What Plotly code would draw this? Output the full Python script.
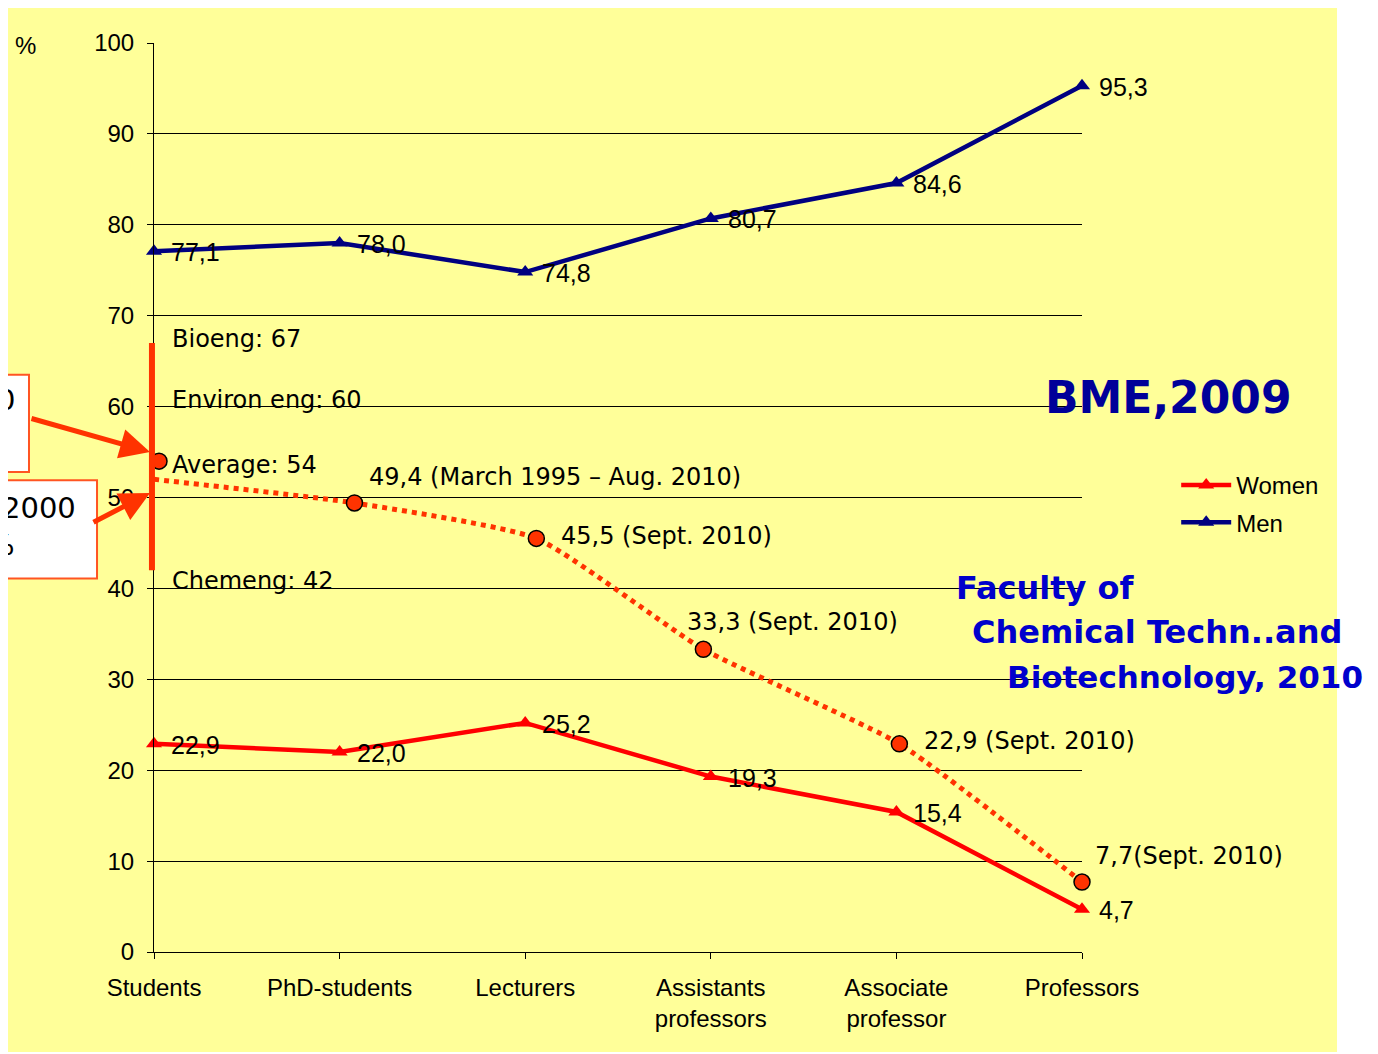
import plotly.graph_objects as go

categories = ["Students", "PhD-students", "Lecturers", "Assistants<br>professors",
              "Associate<br>professor", "Professors"]
women = [22.9, 22.0, 25.2, 19.3, 15.4, 4.7]
men = [77.1, 78.0, 74.8, 80.7, 84.6, 95.3]
women_labels = ["22,9", "22,0", "25,2", "19,3", "15,4", "4,7"]
men_labels = ["77,1", "78,0", "74,8", "80,7", "84,6", "95,3"]

# Faculty of Chemical Technology and Biotechnology, 2010 (women share)
fac_x = [0.027, 1.08, 2.06, 2.96, 4.016, 5.0]
fac_values = [54, 49.4, 45.5, 33.3, 22.9, 7.7]
fac_trend_start = 52
fac_labels = ["", "49,4 (March 1995 – Aug. 2010)", "45,5 (Sept. 2010)",
              "33,3 (Sept. 2010)", "22,9 (Sept. 2010)", "7,7(Sept. 2010)"]
dept_names = ["Bioeng: 67", "Environ eng: 60", "Average: 54", "Chemeng: 42"]
dept_values = [67, 60, 54, 42]
dept_range = [42, 67]

x = list(range(len(categories)))
AX_FONT = "Arial, Liberation Sans, sans-serif"
COMIC = "DejaVu Sans, sans-serif"
YELLOW = "#FFFF99"
ORANGE = "#FF3300"

fig = go.Figure()

fig.add_trace(go.Scatter(
    x=x, y=women, name="Women", legendgroup="w", mode="lines+markers",
    line=dict(color="#FF0000", width=4.5),
    marker=dict(symbol="triangle-up", size=14, color="#FF0000"), cliponaxis=False))
fig.add_trace(go.Scatter(
    x=x, y=men, name="Men", legendgroup="m", mode="lines+markers",
    line=dict(color="#000080", width=4.5),
    marker=dict(symbol="triangle-up", size=14, color="#000080"), cliponaxis=False))

trend_x = [0] + fac_x[1:]
trend_y = [fac_trend_start] + fac_values[1:]
fig.add_trace(go.Scatter(
    x=trend_x, y=trend_y, mode="lines", showlegend=False, hoverinfo="skip",
    line=dict(color=ORANGE, width=5, dash="dot", shape="spline", smoothing=0.5)))
fig.add_trace(go.Scatter(
    x=fac_x, y=fac_values, mode="markers", showlegend=False, cliponaxis=False,
    marker=dict(symbol="circle", size=16, color=ORANGE,
                line=dict(color="black", width=1.5))))

shapes = [
    dict(type="rect", xref="paper", yref="paper", layer="below",
         x0=-0.1573, x1=1.2748, y0=-0.110, y1=1.0418,
         fillcolor=YELLOW, line=dict(width=0)),
    dict(type="line", xref="paper", yref="paper",
         x0=-0.0022, x1=-0.0022, y0=dept_range[0] / 100, y1=dept_range[1] / 100,
         line=dict(color=ORANGE, width=6)),
    dict(type="rect", xref="paper", yref="paper",
         x0=-0.20, x1=-0.1347, y0=0.528, y1=0.635,
         fillcolor="white", line=dict(color="#FF5522", width=2)),
    dict(type="rect", xref="paper", yref="paper",
         x0=-0.20, x1=-0.0614, y0=0.411, y1=0.519,
         fillcolor="white", line=dict(color="#FF5522", width=2)),
]

annotations = [
    dict(text="%", xref="paper", yref="paper", x=-0.138, y=0.9967, xanchor="center",
         yanchor="middle", showarrow=False, font=dict(family=AX_FONT, size=24, color="black")),
    dict(text="BME,2009", xref="paper", yref="paper", x=1.0927, y=0.6095,
         xanchor="center", yanchor="middle", showarrow=False,
         font=dict(family=COMIC, size=44, color="#000099", weight="bold")),
    dict(text="Faculty of", xref="paper", yref="paper", x=(954 - 154) / 928, y=(952 - 588) / 909,
         xanchor="left", yanchor="middle", showarrow=False,
         font=dict(family=COMIC, size=32, color="#0000CC", weight="bold")),
    dict(text="Chemical Techn..and", xref="paper", yref="paper", x=(970 - 154) / 928, y=(952 - 632) / 909,
         xanchor="left", yanchor="middle", showarrow=False,
         font=dict(family=COMIC, size=32, color="#0000CC", weight="bold")),
    dict(text="Biotechnology, 2010", xref="paper", yref="paper", x=(1005 - 154) / 928, y=(952 - 677) / 909,
         xanchor="left", yanchor="middle", showarrow=False,
         font=dict(family=COMIC, size=31, color="#0000CC", weight="bold")),
    # cut-off box texts
    dict(text="0", xref="paper", yref="paper", x=-0.148, y=(952 - 400) / 909,
         xanchor="right", yanchor="middle", showarrow=False,
         font=dict(family=COMIC, size=29, color="black")),
    dict(text="2000", xref="paper", yref="paper", x=-0.082, y=(952 - 508) / 909,
         xanchor="right", yanchor="middle", showarrow=False,
         font=dict(family=COMIC, size=29, color="black")),
    dict(text="%", xref="paper", yref="paper", x=-0.148, y=(952 - 545) / 909,
         xanchor="right", yanchor="middle", showarrow=False,
         font=dict(family=COMIC, size=29, color="black")),
    # arrows
    dict(text="", xref="paper", yref="y", x=-4 / 928, y=55.0, ax=-120, ay=-34,
         showarrow=True, arrowhead=2, arrowsize=1.2, arrowwidth=5, arrowcolor=ORANGE),
    dict(text="", xref="paper", yref="y", x=-4 / 928, y=50.5, ax=-58, ay=30,
         showarrow=True, arrowhead=2, arrowsize=1.2, arrowwidth=5, arrowcolor=ORANGE),
]

# data labels for the two series
for vals, labs in ((women, women_labels), (men, men_labels)):
    for xi, yi, lab in zip(x, vals, labs):
        annotations.append(dict(text=lab, x=xi, y=yi, xref="x", yref="y", xanchor="left",
                                yanchor="middle", xshift=15, yshift=-1, showarrow=False,
                                font=dict(family=AX_FONT, size=25, color="black")))

dept_shifts = [4, 7, -4, -11]
for name, val, dy in zip(dept_names, dept_values, dept_shifts):
    annotations.append(dict(text=name, x=0, y=val, xref="x", yref="y", xanchor="left",
                            yanchor="middle", xshift=16, yshift=dy, showarrow=False,
                            font=dict(family=COMIC, size=24, color="black")))

label_shifts = [(0, 0), (13, 26), (23, 2), (-18, 27), (23, 3), (11, 26)]
for xi, yi, lab, (dx, dy) in zip(fac_x, fac_values, fac_labels, label_shifts):
    if lab:
        annotations.append(dict(text=lab, x=xi, y=yi, xref="x", yref="y", xanchor="left",
                                yanchor="middle", xshift=dx, yshift=dy, showarrow=False,
                                font=dict(family=COMIC, size=24, color="black")))

fig.update_layout(
    width=1370, height=1046,
    margin=dict(l=146, r=296, t=35, b=102),
    paper_bgcolor="white", plot_bgcolor="rgba(0,0,0,0)",
    shapes=shapes, annotations=annotations,
    legend=dict(x=1.1015, y=0.538, xanchor="left", yanchor="top",
                bgcolor="rgba(0,0,0,0)", font=dict(family=AX_FONT, size=24, color="black"),
                itemwidth=50, tracegroupgap=3),
    xaxis=dict(range=[0, 5], tickvals=x, ticktext=categories, showgrid=False,
               showline=True, linecolor="black", linewidth=1, ticks="outside",
               ticklen=6, tickcolor="black", zeroline=False, ticklabelstandoff=8,
               tickfont=dict(family=AX_FONT, size=24, color="black")),
    yaxis=dict(range=[0, 100], dtick=10, showgrid=True, gridcolor="black", gridwidth=1,
               showline=True, linecolor="black", linewidth=1, ticks="outside",
               ticklen=6, tickcolor="black", zeroline=False, ticklabelstandoff=8,
               tickfont=dict(family=AX_FONT, size=24, color="black")),
)

fig.write_html("out.html")
